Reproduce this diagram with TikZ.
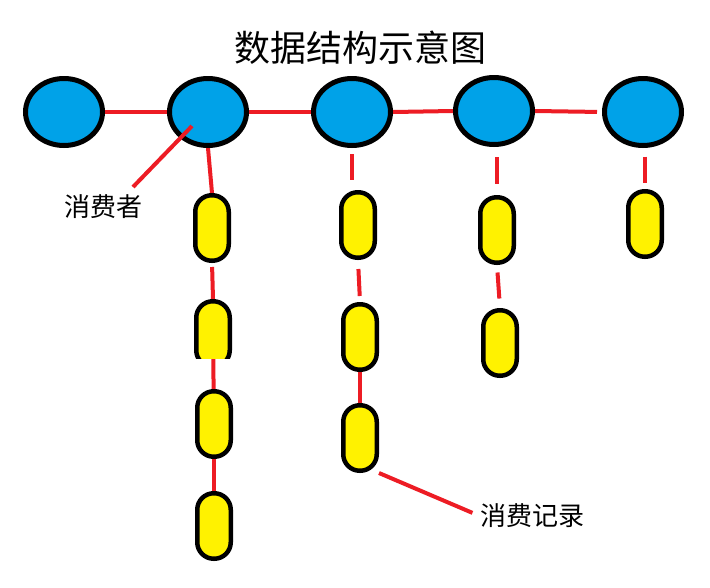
\documentclass[tikz,border=0pt]{standalone}
\usepackage{fontspec}
\newfontfamily\cjk{Noto Sans CJK SC}
\usetikzlibrary{shapes.geometric,backgrounds}
\definecolor{nodeblue}{HTML}{00A2E8}
\definecolor{capyellow}{HTML}{FFF200}
\definecolor{linkred}{HTML}{ED1C24}
\tikzset{
  consumer/.style={ellipse, draw=black, line width=5pt, fill=nodeblue,
    minimum width=77pt, minimum height=67pt, inner sep=0pt},
  record/.style={rectangle, rounded corners=16.5pt, draw=black, line width=4.5pt,
    fill=capyellow, minimum width=33.5pt, minimum height=65.5pt, inner sep=0pt},
  link/.style={draw=linkred, line width=4pt},
  lbl/.style={font=\cjk\fontsize{26}{30}\selectfont, inner sep=0pt, text=black},
  ttl/.style={font=\cjk\fontsize{36}{42}\selectfont, inner sep=0pt, text=black}
}
\begin{document}
\begin{tikzpicture}[x=1pt,y=-1pt]
\useasboundingbox (0,0) rectangle (710,587);
\node[ttl] (title) at (360,48) {数据结构示意图};
% consumers
\node[consumer] (e1) at (64,112) {};
\node[consumer] (e2) at (208,112) {};
\node[consumer] (e3) at (352,112) {};
\node[consumer] (e4) at (494,111) {};
\node[consumer] (e5) at (643,112) {};
% records
\node[record] (c11) at (212,228) {};
\begin{scope}
  \clip (150,290) rectangle (270,358);
  \node[record] (c12) at (213,334) {};
\end{scope}
\node[record] (c13) at (214,424) {};
\node[record] (c14) at (214,526) {};
\node[record] (c21) at (358,225) {};
\node[record] (c22) at (360,337) {};
\node[record] (c23) at (360,438) {};
\node[record] (c31) at (497,230) {};
\node[record] (c32) at (500,343) {};
\node[record] (c41) at (645,224) {};
% labels
\node[lbl] (lab1) at (103,207) {消费者};
\node[lbl] (lab2) at (532,516) {消费记录};
\coordinate (p1) at (192,126);
\coordinate (p0) at (133,187);
\draw[link] (p0) -- (p1);
\begin{pgfonlayer}{background}
  \fill[white] (0,0) rectangle (710,587);
  \draw[link] (e1.east) -- (e2.west);
  \draw[link] (e2.east) -- (e3.west);
  \draw[link] (e3.east) -- (e4.west);
  \draw[link, shorten >=5pt] (e4.east) -- (e5.west);
  \draw[link] (e2.south) -- (c11.north);
  \draw[link, shorten <=4pt] (c11.south) -- (c12.north);
  \draw[link] (c12.center) -- (c13.center);
  \draw[link] (c13.south) -- (c14.north);
  \draw[link, shorten <=6pt, shorten >=10pt] (e3.south) -- (e3.south |- c21.north);
  \draw[link, shorten <=9pt, shorten >=6pt] (c21.south) -- (c22.north);
  \draw[link] (c22.south) -- (c23.north);
  \draw[link, shorten <=10pt, shorten >=11pt] (c31.north |- e4.south) -- (c31.north);
  \draw[link, shorten <=7.5pt, shorten >=9.5pt] (c31.south) -- (c32.north);
  \draw[link, shorten <=8.5pt, shorten >=6.5pt] (c41.north |- e5.south) -- (c41.north);
  \draw[link, shorten >=8pt] (c23.south east) -- (lab2.west);
\end{pgfonlayer}
\end{tikzpicture}
\end{document}
